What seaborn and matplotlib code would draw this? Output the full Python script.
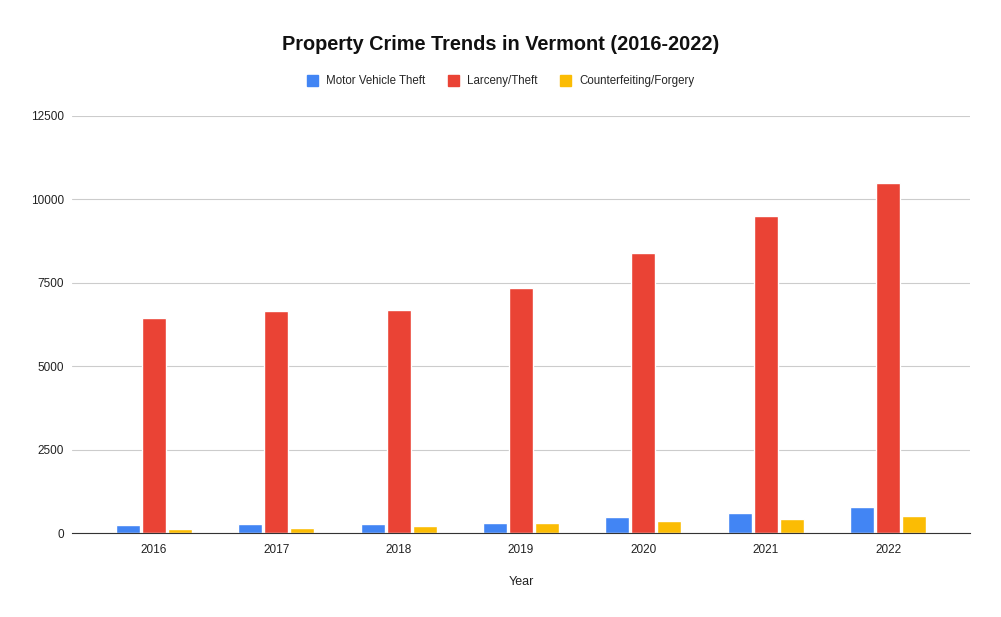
import pandas as pd
import matplotlib
matplotlib.use("Agg")
import matplotlib.pyplot as plt
import seaborn as sns

# values
years = ["2016", "2017", "2018", "2019", "2020", "2021", "2022"]
motor_vehicle_theft = [250, 280, 280, 310, 480, 600, 780]
larceny_theft = [6450, 6650, 6680, 7340, 8390, 9500, 10490]
counterfeiting = [130, 160, 210, 300, 360, 420, 510]
series_names = ["Motor Vehicle Theft", "Larceny/Theft", "Counterfeiting/Forgery"]
colors = ["#4285F4", "#EA4335", "#FBBC04"]

df = pd.DataFrame({
    "Year": years * 3,
    "Series": [series_names[0]] * 7 + [series_names[1]] * 7 + [series_names[2]] * 7,
    "Count": motor_vehicle_theft + larceny_theft + counterfeiting,
})

sns.set_style("white")
plt.rcParams["font.family"] = ["Liberation Sans", "DejaVu Sans"]

fig = plt.figure(figsize=(10.01, 6.17), dpi=100)
ax = fig.add_axes([0.072, 0.136, 0.897, 0.676])

sns.barplot(data=df, x="Year", y="Count", hue="Series", palette=colors,
            saturation=1, width=0.64, gap=0.08, ax=ax, legend=False)

ax.set_xlim(-0.67, 6.67)
ax.set_ylim(0, 12500)
ax.set_yticks([0, 2500, 5000, 7500, 10000, 12500])
ax.yaxis.grid(True, color="#cccccc", linewidth=0.8)
ax.set_axisbelow(True)
for s in ["top", "right", "left"]:
    ax.spines[s].set_visible(False)
ax.spines["bottom"].set_color("#333333")
ax.tick_params(axis="both", length=0, labelsize=8.5, colors="#222222")
ax.tick_params(axis="y", pad=6)
ax.tick_params(axis="x", pad=8)
ax.set_xlabel("Year", fontsize=9, color="#222222", labelpad=14)
ax.set_ylabel("")

fig.suptitle("Property Crime Trends in Vermont (2016-2022)", y=0.943,
             fontsize=14.3, fontweight="bold", color="#111111")

handles = [plt.Rectangle((0, 0), 1, 1, color=c) for c in colors]
fig.legend(handles, series_names, loc="center", bbox_to_anchor=(0.5, 0.868),
           ncol=3, frameon=False, fontsize=8.3, handlelength=1, handleheight=1,
           columnspacing=1.9, handletextpad=0.7)

fig.savefig("out.png", dpi=100)
